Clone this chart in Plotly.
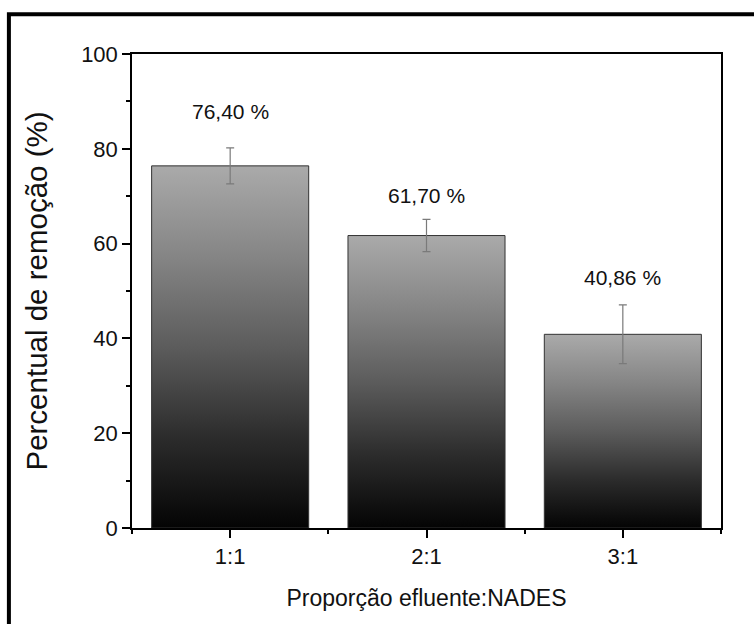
import plotly.graph_objects as go

# Removal efficiency for each effluent:NADES ratio
categories = ["1:1", "2:1", "3:1"]
removal = [76.40, 61.70, 40.86]
removal_err = [3.8, 3.4, 6.2]
y_ticks = [0, 20, 40, 60, 80, 100]

BAR_HALF = 0.4
FONT = "Liberation Sans, Arial, sans-serif"
label_shift_px = [36, 24, 27]

fig = go.Figure()

# Bars as filled rectangles so each can carry a vertical grey-to-black gradient
for i, v in enumerate(removal):
    fig.add_trace(go.Scatter(
        x=[i - BAR_HALF, i + BAR_HALF, i + BAR_HALF, i - BAR_HALF, i - BAR_HALF],
        y=[0, 0, v, v, 0],
        mode="lines",
        fill="toself",
        fillgradient=dict(
            type="vertical",
            colorscale=[[0, "#040404"], [0.25, "#2c2c2c"], [0.5, "#5c5c5c"],
                        [0.75, "#858585"], [1, "#aaaaaa"]],
        ),
        line=dict(color="#333333", width=1),
        hoverinfo="skip",
        showlegend=False,
    ))

# Error bars
fig.add_trace(go.Scatter(
    x=list(range(len(categories))),
    y=removal,
    mode="markers",
    marker=dict(size=1, color="rgba(0,0,0,0)"),
    error_y=dict(type="data", array=removal_err, color="#7a7a7a",
                 thickness=1.2, width=4),
    showlegend=False,
))

# Value labels above each bar
for i, (v, e) in enumerate(zip(removal, removal_err)):
    fig.add_annotation(
        x=i, y=v + e, yshift=label_shift_px[i],
        text=f"{v:.2f} %".replace(".", ","),
        showarrow=False, yanchor="middle",
        font=dict(family=FONT, size=21, color="#111111"),
    )

# Frame around the figure (top and left edges fall inside the canvas)
fig.add_shape(type="rect", xref="paper", yref="paper",
              x0=-0.209, x1=1.3, y0=-0.4, y1=1.084,
              line=dict(color="#000000", width=4), layer="above")

fig.update_xaxes(
    range=[-0.5, 2.5],
    tickvals=list(range(len(categories))),
    ticktext=categories,
    ticks="outside", ticklen=8, tickwidth=1.5, tickcolor="#000",
    minor=dict(tickvals=[-0.5, 0.5, 1.5, 2.5], ticks="outside",
               ticklen=4, tickwidth=1.5, tickcolor="#000"),
    showline=True, linecolor="#000", linewidth=1.5, mirror=True,
    showgrid=False, zeroline=False,
    tickfont=dict(family=FONT, size=22, color="#111"),
    title=dict(text="Proporção efluente:NADES", standoff=22,
               font=dict(family=FONT, size=23, color="#111")),
)
fig.update_yaxes(
    range=[0, 100],
    tickvals=y_ticks,
    ticks="outside", ticklen=8, tickwidth=1.5, tickcolor="#000",
    minor=dict(dtick=10, ticks="outside", ticklen=4, tickwidth=1.5,
               tickcolor="#000"),
    showline=True, linecolor="#000", linewidth=1.5, mirror=True,
    showgrid=False, zeroline=False,
    tickfont=dict(family=FONT, size=22, color="#111"),
    title=dict(text="Percentual de remoção (%)", standoff=25,
               font=dict(family=FONT, size=29.5, color="#111")),
)

fig.update_layout(
    width=754, height=624,
    margin=dict(l=132, r=33, t=54, b=96),
    paper_bgcolor="white", plot_bgcolor="white",
)

fig.write_html("out.html")
